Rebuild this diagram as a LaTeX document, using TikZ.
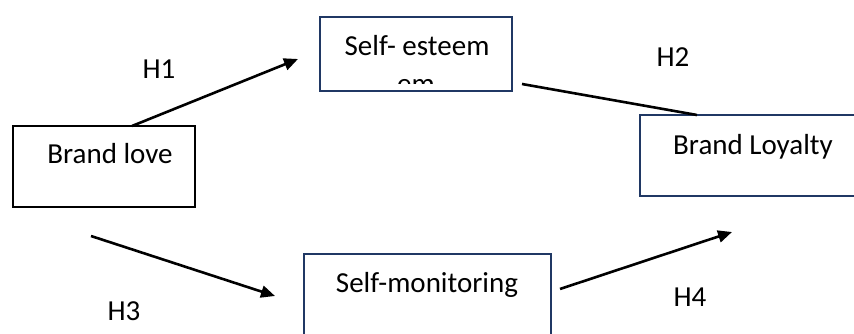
\documentclass[tikz,border=0pt]{standalone}
\usepackage{fontspec}
\setmainfont{Carlito}
\usetikzlibrary{arrows.meta}
\definecolor{boxnavy}{HTML}{203864}
\tikzset{
  navybox/.style={draw=boxnavy, line width=2.3pt, fill=white},
  blackbox/.style={draw=black, line width=2.3pt, fill=white},
  boxtext/.style={font=\fontsize{29}{33}\selectfont, inner sep=0pt, anchor=base},
  hlabel/.style={font=\fontsize{29}{33}\selectfont, inner sep=0pt, anchor=base},
  link/.style={line width=2.6pt, -{Triangle[length=14pt,width=12pt]}},
  plainlink/.style={line width=2.6pt}
}
\begin{document}
\begin{tikzpicture}[x=1pt,y=-1pt]
  \clip (0,0) rectangle (854,334);
  \fill[white] (0,0) rectangle (854,334);

  % boxes
  \draw[navybox] (320,17) rectangle (512,91);
  \draw[blackbox] (13,126) rectangle (195,207);
  \draw[navybox] (640,115) rectangle (870,196);
  \draw[navybox] (304,254) rectangle (551,345);

  % box texts
  \node[boxtext] (esteem) at (417,56) {Self- esteem};
  \begin{scope}
    % second line of the text box, cut off by its inner margin
    \clip (322,19) rectangle (510,83.5);
    \node[boxtext] (esteemrest) at (416,94) {em};
  \end{scope}
  \node[boxtext] (love) at (110,164) {Brand love};
  \node[boxtext] (loyalty) at (753,154) {Brand Loyalty};
  \node[boxtext] (monitor) at (427,292) {Self-monitoring};

  % connector end points
  \coordinate (h1a) at (132,126);
  \coordinate (h1b) at (298,59);
  \coordinate (h2a) at (522,84);
  \coordinate (h2b) at (697,115);
  \coordinate (h3a) at (91,236);
  \coordinate (h3b) at (275,296);
  \coordinate (h4a) at (560,289);
  \coordinate (h4b) at (732,232);

  % connectors
  \draw[link] (h1a) -- (h1b);
  \draw[plainlink] (h2a) -- (h2b);
  \draw[link] (h3a) -- (h3b);
  \draw[link] (h4a) -- (h4b);

  % hypothesis labels
  \node[hlabel] (H1) at (159,79) {H1};
  \node[hlabel] (H2) at (673,67) {H2};
  \node[hlabel] (H3) at (124,320) {H3};
  \node[hlabel] (H4) at (690,306) {H4};
\end{tikzpicture}
\end{document}
